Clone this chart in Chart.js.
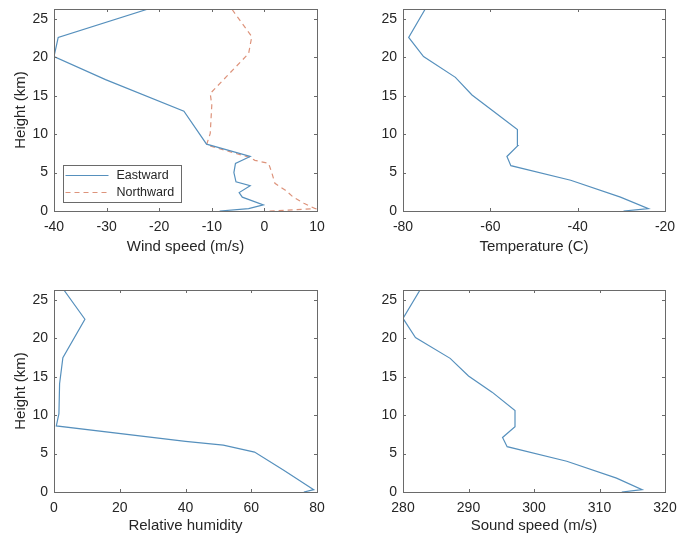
<!DOCTYPE html>
<html>
<head>
<meta charset="utf-8">
<script src="https://cdn.jsdelivr.net/npm/chart.js@4.4.0/dist/chart.umd.min.js"></script>
<style>
  html, body { margin: 0; padding: 0; background: #fff; }
  #wrap { position: relative; width: 678px; height: 535px; }
  #wrap canvas { position: absolute; }
</style>
</head>
<body>
<div id="wrap">
  <canvas id="wind" width="339" height="268" style="left:0;top:0"></canvas>
  <canvas id="temp" width="339" height="268" style="left:339px;top:0"></canvas>
  <canvas id="humidity" width="339" height="267" style="left:0;top:268px"></canvas>
  <canvas id="sound" width="339" height="267" style="left:339px;top:268px"></canvas>
</div>
<script>
// sounding profiles, height in km
const eastHeights = [0, 0.3, 0.8, 1.8, 2.4, 3.3, 3.8, 5.0, 6.2, 7.1, 8.7, 13.0, 17.1, 20.1, 22.6, 26.3];
const eastward = [-8.5, -3.0, -0.2, -4.2, -4.8, -2.7, -5.4, -5.8, -5.5, -2.7, -11.0, -15.3, -30.2, -40.0, -39.2, -22.1];

const northHeights = [0, 0.3, 1.0, 1.8, 2.7, 3.6, 5.0, 6.2, 6.6, 7.0, 8.6, 10.1, 13.8, 15.3, 20.5, 22.7, 26.3];
const northward = [1.0, 9.7, 7.5, 5.5, 4.0, 2.0, 1.4, 0.8, -1.8, -2.9, -11.0, -10.3, -10.0, -10.3, -3.0, -2.4, -6.2];

const atmosHeights = [0, 0.3, 1.8, 4.0, 5.9, 7.1, 8.5, 10.6, 13.0, 15.1, 17.4, 20.1, 22.6, 26.3];
const temperature = [-29.5, -23.8, -30.2, -41.6, -55.3, -56.2, -53.7, -53.8, -59.3, -64.2, -68.0, -75.3, -78.7, -74.9];
const soundSpeed = [313.4, 316.5, 312.6, 305.0, 295.9, 295.2, 297.1, 297.1, 293.6, 290.0, 287.2, 281.9, 280.0, 282.6];

const humidityHeights = [0, 0.3, 2.8, 5.2, 6.1, 6.6, 8.6, 10.2, 14.1, 17.5, 22.5, 26.3];
const humidity = [76, 79, 70, 61, 51.5, 40, 0.7, 1.5, 1.7, 2.7, 9.4, 3.0];

const heightTop = 26.3;

const TEXT = "#262626";
const AXIS = "#6a6a6a";
const FONT = "'Liberation Sans', Arial, Helvetica, sans-serif";
const BLUE = "#5690bd";
const ORANGE = "#dd937b";

function profile(heights, values) {
  return heights.map((h, i) => ({ x: values[i], y: h }));
}

// box around the axes with inward tick marks on all four sides
const boxTicks = {
  id: "boxTicks",
  afterDatasetsDraw(chart) {
    const { ctx, chartArea: a, scales } = chart;
    const len = 3;
    ctx.save();
    ctx.strokeStyle = AXIS;
    ctx.lineWidth = 1;
    ctx.beginPath();
    scales.x.ticks.forEach((t) => {
      const px = Math.round(scales.x.getPixelForValue(t.value)) + 0.5;
      ctx.moveTo(px, a.bottom); ctx.lineTo(px, a.bottom - len);
      ctx.moveTo(px, a.top); ctx.lineTo(px, a.top + len);
    });
    scales.y.ticks.forEach((t) => {
      const py = Math.round(scales.y.getPixelForValue(t.value)) + 0.5;
      ctx.moveTo(a.left, py); ctx.lineTo(a.left + len, py);
      ctx.moveTo(a.right, py); ctx.lineTo(a.right - len, py);
    });
    ctx.stroke();
    ctx.strokeRect(Math.round(a.left) + 0.5, Math.round(a.top) + 0.5,
      Math.round(a.right - a.left), Math.round(a.bottom - a.top));
    ctx.restore();
  },
};

// legend box in the lower left corner of the plot
const cornerLegend = {
  id: "cornerLegend",
  afterDraw(chart) {
    const { ctx, chartArea: a } = chart;
    const x = Math.round(a.left) + 9.5;
    const w = 118, h = 37;
    const y = Math.round(a.bottom) - 8.5 - h;
    ctx.save();
    ctx.fillStyle = "#fff";
    ctx.fillRect(x, y, w, h);
    ctx.strokeStyle = AXIS;
    ctx.lineWidth = 1;
    ctx.strokeRect(x, y, w, h);
    ctx.font = "12.5px " + FONT;
    ctx.textBaseline = "middle";
    chart.data.datasets.forEach((ds, i) => {
      const ly = y + 10 + i * 17;
      ctx.strokeStyle = ds.borderColor;
      ctx.lineWidth = ds.borderWidth;
      ctx.setLineDash(ds.borderDash || []);
      ctx.beginPath();
      ctx.moveTo(x + 2, ly);
      ctx.lineTo(x + 45, ly);
      ctx.stroke();
      ctx.setLineDash([]);
      ctx.fillStyle = TEXT;
      ctx.fillText(ds.label, x + 53, ly);
    });
    ctx.restore();
  },
};

function makeChart(id, datasets, cfg) {
  const canvas = document.getElementById(id);
  const W = canvas.width, H = canvas.height;
  const area = cfg.area;
  return new Chart(canvas, {
    type: "scatter",
    data: { datasets },
    options: {
      responsive: false,
      animation: false,
      events: [],
      layout: { padding: { left: 0, top: area.top, right: W - area.right, bottom: 0 } },
      plugins: { legend: { display: false }, tooltip: { enabled: false } },
      scales: {
        x: {
          type: "linear",
          position: "bottom",
          min: cfg.xMin,
          max: cfg.xMax,
          grid: { display: false, drawTicks: false },
          border: { display: false },
          ticks: {
            stepSize: cfg.xStep,
            includeBounds: false,
            padding: 8,
            color: TEXT,
            font: { family: FONT, size: 14 },
          },
          title: {
            display: true,
            text: cfg.xTitle,
            color: TEXT,
            font: { family: FONT, size: 15 },
            padding: { top: 0, bottom: cfg.titlePad },
          },
          afterFit(s) {
            s.height = H - area.bottom;
            s.paddingLeft = 0;
            s.paddingRight = 0;
          },
        },
        y: {
          type: "linear",
          min: 0,
          max: heightTop,
          grid: { display: false, drawTicks: false },
          border: { display: false },
          ticks: {
            stepSize: 5,
            includeBounds: false,
            padding: 6,
            color: TEXT,
            font: { family: FONT, size: 14 },
          },
          title: {
            display: cfg.yTitle,
            text: "Height (km)",
            color: TEXT,
            font: { family: FONT, size: 15 },
            padding: { top: 12, bottom: 0 },
          },
          afterFit(s) {
            s.width = area.left;
            s.paddingTop = 0;
            s.paddingBottom = 0;
          },
        },
      },
    },
    plugins: cfg.legend ? [boxTicks, cornerLegend] : [boxTicks],
  });
}

function line(label, data, color, dash) {
  return {
    label,
    data,
    showLine: true,
    borderColor: color,
    borderWidth: 1.2,
    borderDash: dash || [],
    pointRadius: 0,
    fill: false,
  };
}

makeChart("wind", [
  line("Eastward", profile(eastHeights, eastward), BLUE),
  line("Northward", profile(northHeights, northward), ORANGE, [5, 4]),
], {
  xMin: -40, xMax: 10, xStep: 10, xTitle: "Wind speed (m/s)",
  yTitle: true, legend: true, titlePad: 12,
  area: { left: 54, right: 317, top: 9, bottom: 211 },
});

makeChart("temp", [
  line("Temperature", profile(atmosHeights, temperature), BLUE),
], {
  xMin: -80, xMax: -20, xStep: 20, xTitle: "Temperature (C)",
  yTitle: false, titlePad: 12,
  area: { left: 64, right: 326, top: 9, bottom: 211 },
});

makeChart("humidity", [
  line("Relative humidity", profile(humidityHeights, humidity), BLUE),
], {
  xMin: 0, xMax: 80, xStep: 20, xTitle: "Relative humidity",
  yTitle: true, titlePad: 0,
  area: { left: 54, right: 317, top: 22, bottom: 224 },
});

makeChart("sound", [
  line("Sound speed", profile(atmosHeights, soundSpeed), BLUE),
], {
  xMin: 280, xMax: 320, xStep: 10, xTitle: "Sound speed (m/s)",
  yTitle: false, titlePad: 0,
  area: { left: 64, right: 326, top: 22, bottom: 224 },
});
</script>
</body>
</html>
